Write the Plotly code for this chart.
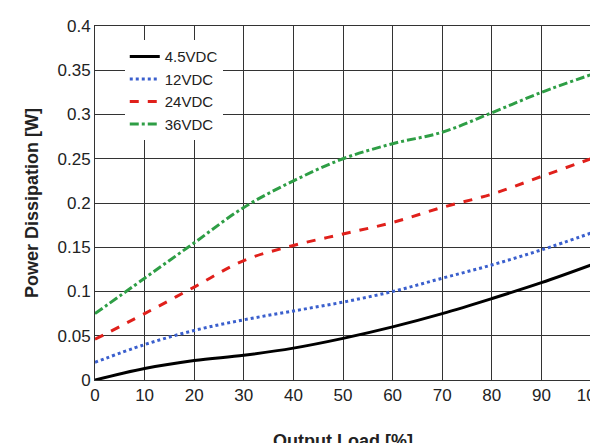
import plotly.graph_objects as go

load = [0, 10, 20, 30, 40, 50, 60, 70, 80, 90, 100]
v45 = [0.0, 0.013, 0.022, 0.028, 0.036, 0.047, 0.060, 0.075, 0.092, 0.110, 0.130]
v12 = [0.020, 0.040, 0.056, 0.068, 0.078, 0.088, 0.100, 0.115, 0.130, 0.147, 0.166]
v24 = [0.046, 0.075, 0.105, 0.135, 0.152, 0.165, 0.178, 0.195, 0.210, 0.230, 0.250]
v36 = [0.075, 0.115, 0.155, 0.195, 0.225, 0.250, 0.267, 0.280, 0.302, 0.325, 0.345]
names = ["4.5VDC", "12VDC", "24VDC", "36VDC"]
colors = ["#000000", "#3a5fcd", "#e0201b", "#2e9e45"]
dashes = ["solid", "dot", "dash", "dashdot"]

fig = go.Figure()
for n, y, c, d in zip(names, [v45, v12, v24, v36], colors, dashes):
    fig.add_trace(go.Scatter(x=load, y=y, name=n, mode="lines", line_shape="spline",
                             line=dict(color=c, width=3, dash=d)))

font = "Liberation Sans Narrow, Arial Narrow, Liberation Sans, sans-serif"
fig.update_layout(
    width=598, height=443, paper_bgcolor="white", plot_bgcolor="white",
    margin=dict(l=87, r=15, t=18, b=71, autoexpand=False),
    font=dict(family=font, size=16, color="#222"),
    legend=dict(x=0.06, y=0.96, xanchor="left", yanchor="top", bgcolor="white",
                font=dict(size=15), tracegroupgap=0),
    xaxis=dict(range=[0, 100], dtick=10, showgrid=True, gridcolor="#333", gridwidth=1,
               showline=True, linecolor="#333", mirror=True, zeroline=False, ticks="",
               automargin=False, tickfont=dict(size=17),
               title=dict(text="<b>Output Load [%]</b>", font=dict(size=18), standoff=30)),
    yaxis=dict(range=[0, 0.4], showgrid=True, gridcolor="#333", gridwidth=1,
               showline=True, linecolor="#333", mirror=True, zeroline=False, ticks="",
               automargin=False, tickfont=dict(size=17),
               tickvals=[0, 0.05, 0.1, 0.15, 0.2, 0.25, 0.3, 0.35, 0.4],
               ticktext=["0", "0.05", "0.1", "0.15", "0.2", "0.25", "0.3", "0.35", "0.4"],
               title=dict(text="<b>Power Dissipation [W]</b>", font=dict(size=18), standoff=14)),
)
fig.write_html("out.html")
